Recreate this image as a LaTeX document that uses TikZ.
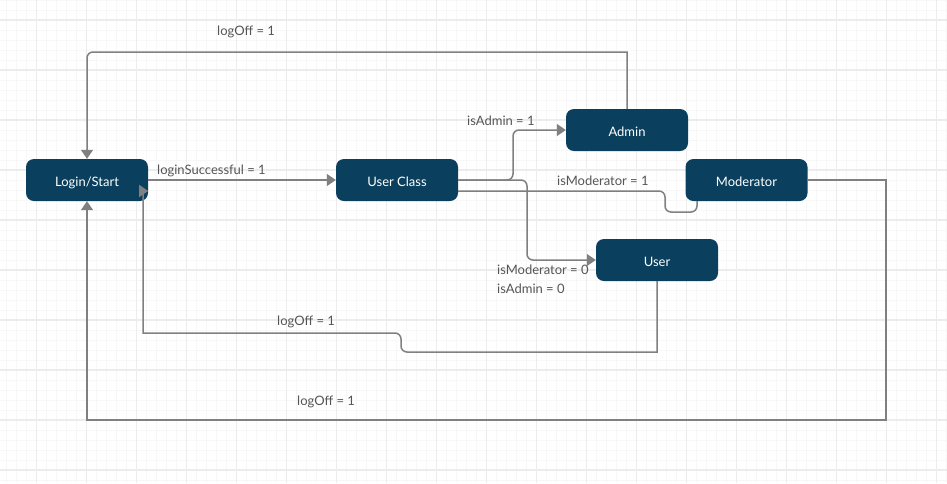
\documentclass[tikz,border=0pt]{standalone}
\usepackage{fontspec}
\setmainfont{Lato}
\usetikzlibrary{arrows.meta}
\definecolor{nodeblue}{RGB}{10,64,94}
\definecolor{wire}{RGB}{128,128,128}
\definecolor{labelgray}{RGB}{85,85,85}
\definecolor{gridminor}{RGB}{247,247,247}
\definecolor{gridmajor}{RGB}{236,236,236}
\tikzset{
  statebox/.style={rectangle, rounded corners=8pt, fill=nodeblue, draw=none,
    minimum width=122pt, minimum height=42pt, inner sep=0pt,
    text height=13.4pt, text depth=0pt,
    text=white, font=\fontsize{13}{15}\selectfont},
  conn/.style={draw=wire, line width=1.5pt},
  arr/.style={-{Triangle[length=9pt,width=12pt]}},
  cond/.style={anchor=base west, inner sep=0pt, text=labelgray,
    font=\fontsize{13}{15}\selectfont},
}
\begin{document}
\begin{tikzpicture}[x=1pt,y=-1pt]
  % canvas and grid
  \fill[white] (0,0) rectangle (947,483);
  \useasboundingbox (0,0) rectangle (947,483);
  \foreach \i in {0,...,94} {\draw[gridminor, line width=0.8pt] ({6.7+10*\i},0) -- ({6.7+10*\i},483);}
  \foreach \j in {0,...,48} {\draw[gridminor, line width=0.8pt] (0,{10*\j}) -- (947,{10*\j});}
  \foreach \i in {0,...,18} {\draw[gridmajor, line width=1.2pt] ({36.7+50*\i},0) -- ({36.7+50*\i},483);}
  \foreach \j in {0,...,9} {\draw[gridmajor, line width=1.2pt] (0,{20+50*\j}) -- (947,{20+50*\j});}

  % states
  \node[statebox] (login)  at (87,180)    {Login/Start};
  \node[statebox] (uclass) at (397,180)   {User Class};
  \node[statebox] (admin)  at (627,130)   {Admin};
  \node[statebox] (moder)  at (746.5,180) {Moderator};
  \node[statebox] (user)   at (657,260)   {User};

  % transitions
  \draw[conn,arr] (login.east) -- (uclass.west);
  \draw[conn,arr,rounded corners=6pt] (uclass.east) -- (513,180) -- (513,130) -- (admin.west);
  \draw[conn,arr,rounded corners=6pt] (uclass.east) -- (527,180) -- (527,260) -- (user.west);
  \draw[conn,rounded corners=6pt] (458,191) -- (665,191) -- (665,212) -- (697,212) -- (697,201);
  \draw[conn,arr] (admin.north) -- (627,52) [rounded corners=6pt] -- (87,52) -- (login.north);
  \draw[conn,arr] (moder.east) -- (886,180) -- (886,420) -- (87,420) -- (login.south);
  \draw[conn,arr] (user.south) -- (657,352) [rounded corners=6pt] -- (401,352) -- (401,333) [sharp corners] -- (143,333) -- (143,191) -- (login.east |- 143,191);

  % transition conditions
  \node[cond] (c1) at (157,174) {loginSuccessful = 1};
  \node[cond] (c2) at (467,125) {isAdmin = 1};
  \node[cond] (c3) at (557,185) {isModerator = 1};
  \node[cond] (c4) at (497,274) {isModerator = 0};
  \node[cond] (c5) at (497,293) {isAdmin = 0};
  \node[cond] (c6) at (217,35)  {logOff = 1};
  \node[cond] (c7) at (277,325) {logOff = 1};
  \node[cond] (c8) at (297,405) {logOff = 1};
\end{tikzpicture}
\end{document}
